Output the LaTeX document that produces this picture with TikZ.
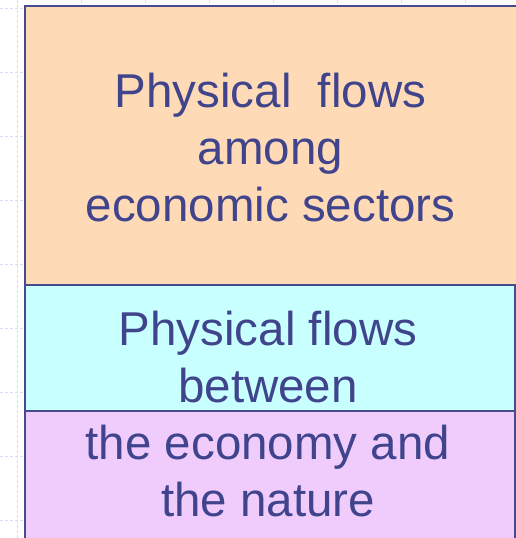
\documentclass[tikz,border=0pt]{standalone}
\usepackage{fontspec}
\setmainfont{Liberation Sans}
\begin{document}
\definecolor{inkblue}{HTML}{40448C}
\definecolor{framebl}{HTML}{474A8E}
\definecolor{peach}{HTML}{FFDAB6}
\definecolor{icecyan}{HTML}{C8FFFF}
\definecolor{lilac}{HTML}{F0CCFC}
\definecolor{gridbl}{HTML}{D4DEF2}
\begin{tikzpicture}[x=1pt,y=-1pt,
  panel/.style={draw=framebl, line width=1.6pt},
  label/.style={text=inkblue, align=center, inner sep=0pt,
    font=\fontsize{47.5}{57}\selectfont},
  gridline/.style={draw=gridbl, line width=0.8pt, dash pattern=on 3pt off 2pt}]
  \useasboundingbox (0,0) rectangle (516,538);
  % faint page grid
  \foreach \gx in {17,81,...,529} \draw[gridline] (\gx,0) -- (\gx,538);
  \foreach \gy in {8,72,...,536} \draw[gridline] (0,\gy) -- (516,\gy);
  % stacked panels
  \path[panel, fill=peach] (25,6) rectangle (530,285);
  \path[panel, fill=icecyan] (25,285) rectangle (515,411);
  \path[panel, fill=lilac] (25,411) rectangle (515,550);
  % texts (base anchor sits on the last line)
  \node[label, anchor=base] (t1) at (270.5,221) {Physical\ \ flows\\among\\economic sectors};
  \node[label, anchor=base] (t2) at (268,516) {Physical flows\\between\\the economy and\\the nature};
\end{tikzpicture}
\end{document}
